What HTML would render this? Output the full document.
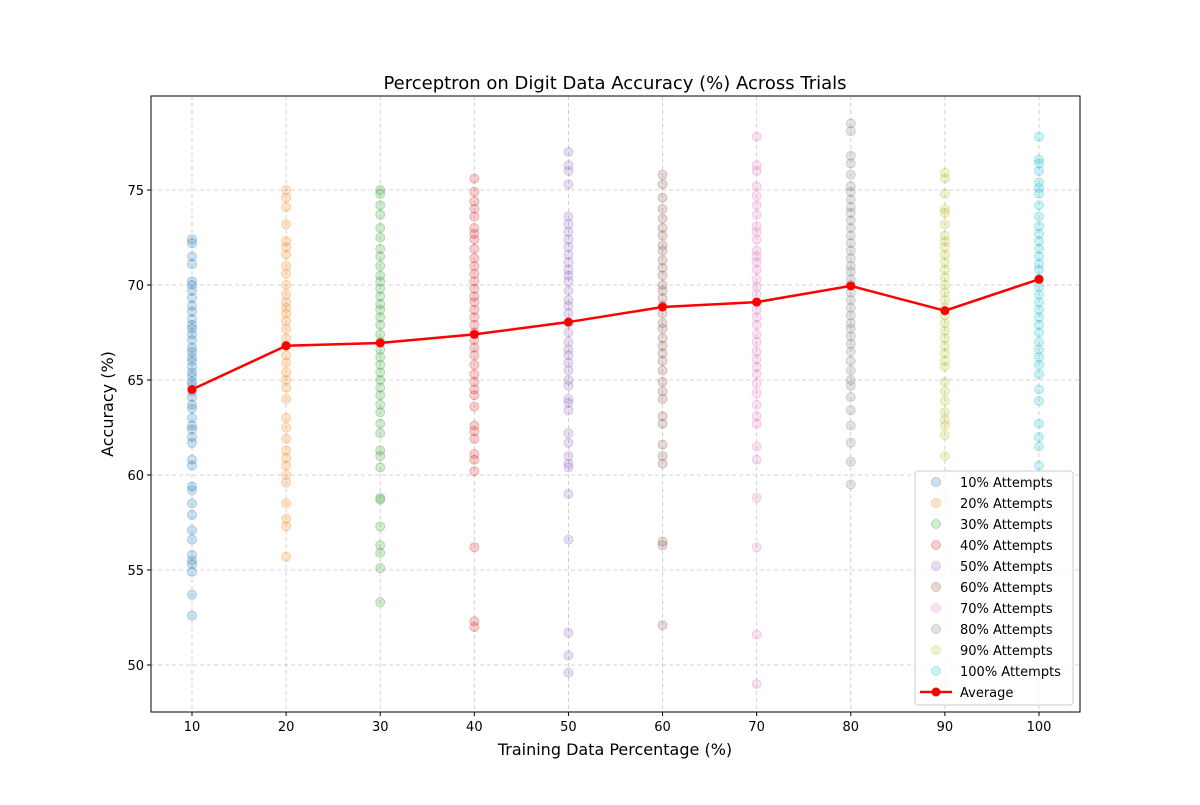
<!DOCTYPE html>
<html><head><meta charset="utf-8"><style>
body{margin:0;background:#fff;font-family:"Liberation Sans","DejaVu Sans",sans-serif}
svg text{font-family:"DejaVu Sans","Liberation Sans",sans-serif}
</style></head><body>
<svg id="chart" width="1200" height="800" xmlns="http://www.w3.org/2000/svg"></svg>
<script>
const categories=[10,20,30,40,50,60,70,80,90,100];
const averages=[64.5,66.8,66.95,67.4,68.05,68.84,69.1,69.95,68.65,70.3];
const yTicks=[50,55,60,65,70,75];
const trials10=[72.4,72.2,71.5,71.1,70.2,70.0,69.7,69.3,68.9,68.6,68.2,67.9,67.7,67.4,67.1,66.7,66.5,66.2,66.0,65.7,65.4,65.2,64.9,64.7,64.4,64.1,63.7,63.5,63.0,62.6,62.4,62.0,61.7,60.8,60.5,59.4,59.2,58.5,57.9,57.1,56.6,55.8,55.5,55.3,54.9,53.7,52.6];
const trials20=[75.0,74.6,74.1,73.2,72.3,72.0,71.6,71.0,70.6,70.0,69.5,69.1,68.8,68.5,68.1,67.7,67.2,66.8,66.3,65.9,65.4,65.0,64.6,64.0,63.0,62.5,61.9,61.3,60.9,60.5,60.0,59.6,58.5,57.7,57.3,55.7];
const trials30=[75.0,74.8,74.2,73.7,73.0,72.5,71.9,71.5,71.0,70.5,70.2,69.8,69.4,69.0,68.7,68.3,67.9,67.4,67.0,66.6,66.2,65.8,65.4,65.0,64.6,64.2,63.7,63.3,62.7,62.2,61.3,61.0,60.4,58.8,58.7,57.3,56.3,55.9,55.1,53.3];
const trials40=[75.6,74.9,74.4,74.0,73.6,73.0,72.7,72.4,71.9,71.4,71.0,70.6,70.2,69.8,69.4,69.1,68.7,68.3,67.9,67.5,67.1,66.7,66.3,65.8,65.3,64.9,64.5,64.2,63.6,62.6,62.3,61.9,61.1,60.8,60.2,56.2,52.3,52.0];
const trials50=[77.0,76.3,76.0,75.3,73.6,73.2,72.8,72.4,72.0,71.6,71.2,70.8,70.5,70.2,69.7,69.2,68.9,68.5,68.0,67.5,67.0,66.6,66.3,65.9,65.5,65.0,64.7,64.0,63.8,63.4,62.2,61.7,61.0,60.6,60.4,59.0,56.6,51.7,50.5,49.6];
const trials60=[75.8,75.3,74.6,74.0,73.5,73.0,72.6,72.1,71.8,71.3,70.9,70.5,70.0,69.7,69.3,68.9,68.5,68.0,67.7,67.2,66.8,66.4,66.0,65.5,64.9,64.4,64.0,63.1,62.7,61.6,61.0,60.6,56.5,56.3,52.1];
const trials70=[77.8,76.3,76.0,75.2,74.7,74.2,73.7,73.1,72.8,72.4,71.8,71.5,71.2,70.8,70.3,69.9,69.5,69.1,68.7,68.3,67.9,67.4,67.0,66.5,66.1,65.7,65.3,64.8,64.3,63.7,63.1,62.7,61.5,60.8,58.8,56.2,51.6,49.0];
const trials80=[78.5,78.1,76.8,76.4,75.8,75.2,74.9,74.5,74.1,73.8,73.4,73.0,72.6,72.2,71.8,71.4,71.0,70.7,70.3,70.0,69.6,69.2,68.8,68.4,68.0,67.7,67.3,66.9,66.5,66.0,65.5,65.0,64.7,64.1,63.4,62.6,61.7,60.7,59.5];
const trials90=[75.9,75.6,74.8,74.0,73.8,73.2,72.6,72.3,72.0,71.6,71.2,70.8,70.4,70.0,69.6,69.2,68.8,68.4,68.0,67.6,67.2,66.8,66.4,66.0,65.7,64.9,64.4,63.9,63.3,62.9,62.6,62.1,61.0,58.8,49.0];
const trials100=[77.8,76.6,76.4,76.0,75.4,75.1,74.8,74.2,73.6,73.1,72.7,72.3,71.9,71.5,71.1,70.8,70.3,69.9,69.5,69.1,68.7,68.3,67.9,67.5,67.0,66.6,66.2,65.8,65.3,64.5,63.9,62.7,62.0,61.5,60.5];
const allTrials=[trials10,trials20,trials30,trials40,trials50,trials60,trials70,trials80,trials90,trials100];
const colors=["#1f77b4","#ff7f0e","#2ca02c","#d62728","#9467bd","#8c564b","#e377c2","#7f7f7f","#bcbd22","#17becf"];
const NS="http://www.w3.org/2000/svg";
const svg=document.getElementById('chart');
const L=151,R=1080,T=96,B=712;
const xs=v=>192+(v-10)*(1039-192)/90;
const ys=v=>665-(v-50)*19;
function mk(t,a,p){const e=document.createElementNS(NS,t);for(const k in a)e.setAttribute(k,a[k]);(p||svg).appendChild(e);return e;}
// grid
categories.forEach(c=>{const g=mk('line',{x1:xs(c),x2:xs(c),y1:T,y2:B,stroke:'#b0b0b0','stroke-dasharray':'4,3','stroke-width':0.8,opacity:0.7});

mk('line',{x1:xs(c),x2:xs(c),y1:B,y2:B+4,stroke:'#000'});
const t=mk('text',{x:xs(c),y:B+19,'text-anchor':'middle','font-size':13});t.textContent=c;
});
yTicks.forEach(v=>{const g=mk('line',{x1:L,x2:R,y1:ys(v),y2:ys(v),stroke:'#b0b0b0','stroke-dasharray':'4,3','stroke-width':0.8,opacity:0.7});

mk('line',{x1:L-4,x2:L,y1:ys(v),y2:ys(v),stroke:'#000'});
const t=mk('text',{x:L-7,y:ys(v)+5,'text-anchor':'end','font-size':13});t.textContent=v;
});
// points
allTrials.forEach((arr,i)=>{arr.forEach(v=>{const c=mk('circle',{cx:xs(categories[i]),cy:ys(v),r:4.5,fill:colors[i],'fill-opacity':0.22,stroke:colors[i],'stroke-opacity':0.3});
});});
// average line
const pl=mk('polyline',{points:averages.map((v,i)=>xs(categories[i])+','+ys(v)).join(' '),fill:'none',stroke:'#ff0000','stroke-width':2.5});

averages.forEach((v,i)=>{const c=mk('circle',{cx:xs(categories[i]),cy:ys(v),r:4.5,fill:'#ff0000'});
});
// frame
const fr=mk('rect',{x:L,y:T,width:R-L,height:B-T,fill:'none',stroke:'#000','stroke-width':1});

// titles
let t=mk('text',{x:615,y:89,'text-anchor':'middle','font-size':18});t.textContent='Perceptron on Digit Data Accuracy (%) Across Trials';

t=mk('text',{x:615,y:755,'text-anchor':'middle','font-size':16});t.textContent='Training Data Percentage (%)';

t=mk('text',{x:113,y:404,'text-anchor':'middle','font-size':16,transform:'rotate(-90 113 404)'});t.textContent='Accuracy (%)';

// legend
const lg=mk('rect',{x:915,y:471,width:158,height:234,rx:3,fill:'#fff','fill-opacity':0.8,stroke:'#ccc'});

categories.forEach((c,i)=>{const y=482+i*21;
const m=mk('circle',{cx:936,cy:y,r:4.5,fill:colors[i],'fill-opacity':0.22,stroke:colors[i],'stroke-opacity':0.3});

const tx=mk('text',{x:960,y:y+5,'font-size':13});tx.textContent=c+'% Attempts';
});
{const y=482+10*21;
mk('line',{x1:920,x2:952,y1:y,y2:y,stroke:'#ff0000','stroke-width':2.5});
mk('circle',{cx:936,cy:y,r:4.5,fill:'#ff0000'});
const tx=mk('text',{x:960,y:y+5,'font-size':13});tx.textContent='Average';
}
</script>
</body></html>
